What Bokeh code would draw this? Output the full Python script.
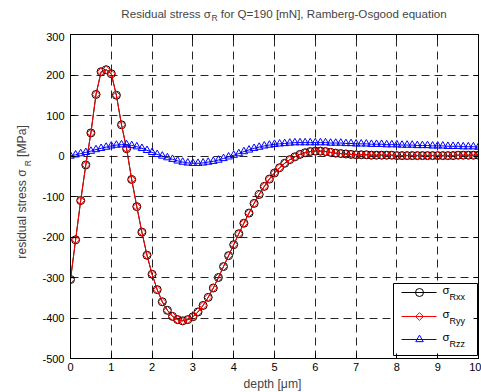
import math
from bokeh.plotting import figure
from bokeh.models import Range1d, LinearAxis, FixedTicker, Label
from bokeh.layouts import column, row
from bokeh.embed import file_html
from bokeh.resources import INLINE

# ---------------- data ----------------
depth = [0.0, 0.125, 0.25, 0.375, 0.5, 0.625, 0.75, 0.875, 1.0, 1.125,
         1.25, 1.375, 1.5, 1.625, 1.75, 1.875, 2.0, 2.125, 2.25, 2.375,
         2.5, 2.625, 2.75, 2.875, 3.0, 3.125, 3.25, 3.375, 3.5, 3.625,
         3.75, 3.875, 4.0, 4.125, 4.25, 4.375, 4.5, 4.625, 4.75, 4.875,
         5.0, 5.125, 5.25, 5.375, 5.5, 5.625, 5.75, 5.875, 6.0, 6.125,
         6.25, 6.375, 6.5, 6.625, 6.75, 6.875, 7.0, 7.125, 7.25, 7.375,
         7.5, 7.625, 7.75, 7.875, 8.0, 8.125, 8.25, 8.375, 8.5, 8.625,
         8.75, 8.875, 9.0, 9.125, 9.25, 9.375, 9.5, 9.625, 9.75, 9.875, 10.0]

sigma_rxx = [-305, -207, -110, -22, 57, 152, 208, 213, 203, 150,
             77, 18, -58, -125, -188, -245, -292, -330, -360, -381,
             -396, -404, -407, -404, -397, -385, -369, -349, -326, -300,
             -273, -246, -219, -192, -166, -141, -117, -95, -75, -57,
             -42, -29, -18, -9, -2, 4, 8, 11, 12, 12,
             11, 9, 7, 6, 5, 4, 3, 3, 3, 2,
             2, 2, 2, 2, 1, 1, 1, 1, 1, 1,
             1, 1, 1, 1, 1, 1, 2, 2, 2, 2, 2]

sigma_ryy = [-305, -207, -110, -22, 57, 152, 208, 213, 203, 150,
             77, 18, -58, -125, -188, -245, -292, -330, -360, -381,
             -396, -404, -407, -404, -397, -385, -369, -349, -326, -300,
             -273, -246, -219, -192, -166, -141, -117, -95, -75, -57,
             -42, -29, -18, -9, -2, 4, 8, 11, 12, 12,
             11, 9, 7, 6, 5, 4, 3, 3, 3, 2,
             2, 2, 2, 2, 1, 1, 1, 1, 1, 1,
             1, 1, 1, 1, 1, 1, 2, 2, 2, 2, 2]

sigma_rzz = [0, 3, 6, 9, 12, 16, 19, 22, 25, 27,
             28, 28, 26, 23, 19, 14, 9, 4, 0, -4,
             -8, -12, -15, -17, -18, -18, -17, -15, -13, -10,
             -6, -2, 2, 6, 11, 15, 19, 22, 25, 27,
             29, 30, 31, 32, 33, 33, 33, 33, 33, 33,
             33, 32, 32, 32, 31, 31, 30, 30, 30, 29,
             29, 29, 28, 28, 28, 27, 27, 27, 26, 26,
             26, 25, 25, 25, 24, 24, 24, 23, 23, 23, 22]

x_ticks = [0, 1, 2, 3, 4, 5, 6, 7, 8, 9, 10]
y_ticks = [-500, -400, -300, -200, -100, 0, 100, 200, 300]
y_tick_labels = ["-500", "-400", "-300", "-200", "-100", "0", "100", "200", "300"]

title_main = "Residual stress σ"
title_sub = "R"
title_rest = "for Q=190 [mN], Ramberg-Osgood equation"
xlabel_text = "depth [μm]"
ylabel_main = "residual stress σ"
ylabel_sub = "R"
ylabel_rest = "[MPa]"
legend_subs = ["Rxx", "Ryy", "Rzz"]

# ---------------- layout constants (canvas pixels) ----------------
W, H = 481, 392
FL, FT, FW, FH = 70, 34, 408, 324          # frame of the main axes on the canvas
TITLE_H = 32                                # height of the title strip
YLAB_W = 32                                 # width of the y-label strip
MAIN_H = (FT - TITLE_H) + FH + 18           # main figure height
XLAB_H = H - TITLE_H - MAIN_H               # x-label strip height
X0, X1, Y0, Y1 = 0, 10, -500, 300
FONT = "Liberation Sans"


def dx(px):
    return X0 + (px - FL) / FW * (X1 - X0)


def dy(py):
    return Y1 - (py - FT) / FH * (Y1 - Y0)


def strip(w, h):
    f = figure(width=w, height=h, x_range=Range1d(0, w), y_range=Range1d(h, 0),
               output_backend="svg", toolbar_location=None,
               x_axis_type=None, y_axis_type=None,
               min_border=0, min_border_left=0, min_border_right=0,
               min_border_top=0, min_border_bottom=0)
    f.outline_line_color = None
    f.grid.visible = False
    f.background_fill_color = "white"
    f.border_fill_color = "white"
    return f


# ---------------- main figure ----------------
main_w = W - YLAB_W
p = figure(width=main_w, height=MAIN_H, x_range=Range1d(X0, X1), y_range=Range1d(Y0, Y1),
           output_backend="svg", toolbar_location=None,
           min_border_left=FL - YLAB_W, min_border_right=main_w - (FL - YLAB_W) - FW,
           min_border_top=FT - TITLE_H, min_border_bottom=MAIN_H - (FT - TITLE_H) - FH)
p.background_fill_color = "white"
p.border_fill_color = "white"
p.outline_line_color = "black"
p.outline_line_width = 1

for ax, ticks in ((p.xaxis[0], x_ticks), (p.yaxis[0], y_ticks)):
    ax.ticker = FixedTicker(ticks=ticks)
    ax.minor_tick_line_color = None
    ax.major_tick_in = 5
    ax.major_tick_out = 0
    ax.axis_line_color = "black"
    ax.axis_line_width = 1
    ax.major_tick_line_color = "black"
    ax.major_label_text_font = FONT
    ax.major_label_text_font_size = "11px"
    ax.major_label_text_color = "black"
p.yaxis[0].major_label_overrides = {t: s for t, s in zip(y_ticks, y_tick_labels)}
p.xaxis.major_label_standoff = 4
p.yaxis.major_label_standoff = 6

for loc, ticks in (("right", y_ticks), ("above", x_ticks)):
    ax = LinearAxis(ticker=FixedTicker(ticks=ticks), major_tick_in=5, major_tick_out=0,
                    minor_tick_line_color=None, axis_line_color="black",
                    major_label_text_font_size="0px", major_label_standoff=0,
                    major_label_overrides={t: "" for t in ticks})
    p.add_layout(ax, loc)

for g in (p.xgrid[0], p.ygrid[0]):
    g.grid_line_color = "black"
    g.grid_line_dash = "8 5"
    g.grid_line_alpha = 0.85
    g.grid_line_width = 1
p.xgrid.ticker = FixedTicker(ticks=x_ticks)
p.ygrid.ticker = FixedTicker(ticks=y_ticks)

# series
p.line(depth, sigma_rxx, line_color="black", line_width=1)
p.scatter(depth, sigma_rxx, marker="circle", size=8, fill_color=None,
          line_color="black", line_width=1)
p.line(depth, sigma_ryy, line_color="red", line_width=1)
p.scatter(depth, sigma_ryy, marker="square", angle=math.pi / 4, size=5.5, fill_color=None,
          line_color="red", line_width=1)
p.line(depth, sigma_rzz, line_color="blue", line_width=1)
p.scatter(depth, sigma_rzz, marker="triangle", size=7.5, fill_color=None,
          line_color="blue", line_width=1)

# legend (custom, with subscripts)
p.quad(left=dx(393), right=dx(477), top=dy(283), bottom=dy(355),
       fill_color="white", line_color="black", line_width=1)
rows = [(292, "black", "circle", 8, 0.0), (316, "red", "square", 5.5, math.pi / 4),
        (339, "blue", "triangle", 7.5, 0.0)]
for (ry, col, mk, sz, ang), sub in zip(rows, legend_subs):
    p.line([dx(401), dx(436)], [dy(ry), dy(ry)], line_color=col, line_width=1)
    p.scatter([dx(419)], [dy(ry)], marker=mk, size=sz, angle=ang, fill_color=None,
              line_color=col, line_width=1)
    p.add_layout(Label(x=dx(442), y=dy(ry - 3), text="σ", text_font=FONT,
                       text_font_size="11.5px", text_align="left",
                       text_baseline="middle", text_color="black"))
    p.add_layout(Label(x=dx(449), y=dy(ry + 4), text=sub, text_font=FONT,
                       text_font_size="9px", text_align="left",
                       text_baseline="middle", text_color="black"))

# ---------------- title strip ----------------
TS, SS = 11.6, 8.5
tf = strip(W, TITLE_H)
T_START = 121
w_main = 7.71 * TS
w_sub = 0.722 * SS
gap = 0.278 * TS
anchor = T_START + w_main
tf.add_layout(Label(x=anchor, y=13, text=title_main, text_font=FONT,
                    text_font_size=f"{TS}px", text_align="right", text_baseline="middle"))
tf.add_layout(Label(x=anchor + 0.5, y=17, text=title_sub, text_font=FONT,
                    text_font_size=f"{SS}px", text_align="left", text_baseline="middle"))
tf.add_layout(Label(x=anchor + 0.5 + w_sub + gap, y=13, text=title_rest, text_font=FONT,
                    text_font_size=f"{TS}px", text_align="left", text_baseline="middle"))

# ---------------- y-label strip ----------------
LS = 12.2
yf = strip(YLAB_W, MAIN_H)
y_main_end = 175 - TITLE_H     # top end of "residual stress σ"
y_sub_start = 172 - TITLE_H    # subscript R starts here (going up)
y_rest_start = 162 - TITLE_H   # "[MPa]" starts here (going up)
yf.add_layout(Label(x=21, y=y_main_end, text=ylabel_main, text_font=FONT,
                    text_font_size=f"{LS}px", text_align="right", text_baseline="middle",
                    angle=math.pi / 2))
yf.add_layout(Label(x=27, y=y_sub_start, text=ylabel_sub, text_font=FONT,
                    text_font_size=f"{SS}px", text_align="left", text_baseline="middle",
                    angle=math.pi / 2))
yf.add_layout(Label(x=21, y=y_rest_start, text=ylabel_rest, text_font=FONT,
                    text_font_size=f"{LS}px", text_align="left", text_baseline="middle",
                    angle=math.pi / 2))

# ---------------- x-label strip ----------------
xf = strip(W, XLAB_H)
xf.add_layout(Label(x=272, y=7, text=xlabel_text, text_font=FONT,
                    text_font_size="12.2px", text_align="center", text_baseline="middle"))

layout = column(tf, row(yf, p, spacing=0), xf, spacing=0)
open("out.html", "w").write(file_html(layout, INLINE))
